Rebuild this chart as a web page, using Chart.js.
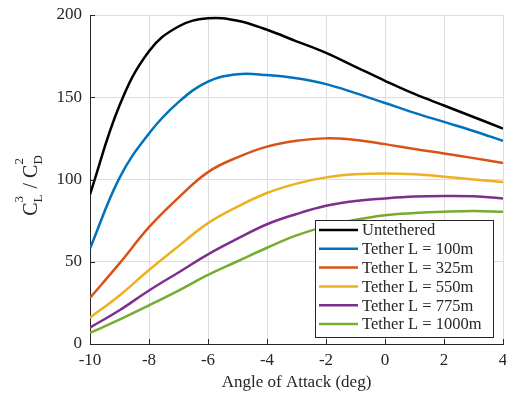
<!DOCTYPE html>
<html>
<head>
<meta charset="utf-8">
<script src="https://cdn.jsdelivr.net/npm/chart.js@4/dist/chart.umd.min.js"></script>
<style>
  html, body { margin: 0; padding: 0; background: #fff; }
  #wrap { width: 506px; height: 396px; }
</style>
</head>
<body>
<div id="wrap"><canvas id="chart" width="506" height="396"></canvas></div>
<script>
// angle of attack (deg) and C_L^3/C_D^2
const angles = [-10, -9, -8, -7, -6, -5, -4, -3, -2, -1, 0, 1, 2, 3, 4];
const untethered = [91, 145, 178, 193, 198, 196.5, 191, 184, 177, 168.5, 160, 152, 145, 138, 131];
const tether100  = [58, 101, 128, 147, 159.5, 164, 163.5, 161.5, 158, 152.5, 146.5, 140.5, 135, 129.5, 123.5];
const tether325  = [28, 49, 71, 89, 104.5, 113.5, 120, 123.5, 125, 124, 121.5, 118.5, 115.8, 113, 110];
const tether550  = [16, 29.5, 45, 59.5, 73.5, 83.5, 91.8, 97.5, 101.3, 103.2, 103.7, 103.2, 101.7, 100, 98.5];
const tether775  = [10, 20.5, 32.5, 43.5, 54.5, 64, 72.8, 79, 84, 87, 88.5, 89.6, 90, 89.8, 88.5];
const tether1000 = [6.8, 14.8, 23.5, 32.5, 42, 50.3, 58.5, 66, 71.5, 75.5, 78.3, 79.6, 80.4, 80.8, 80.4];

const seriesLabels = ['Untethered', 'Tether L = 100m', 'Tether L = 325m', 'Tether L = 550m', 'Tether L = 775m', 'Tether L = 1000m'];
const seriesValues = [untethered, tether100, tether325, tether550, tether775, tether1000];
const seriesColors = ['#000000', '#0072BD', '#D95319', '#EDB120', '#7E2F8E', '#77AC30'];

const xTicks = [-10, -8, -6, -4, -2, 0, 2, 4];
const yTicks = [0, 50, 100, 150, 200];

const FONT = "'Liberation Serif', 'DejaVu Serif', serif";
const AXIS = '#262626';

// ticks pointing into the plot, like matlab
const innerTicks = {
  id: 'innerTicks',
  afterDraw(chart) {
    const { ctx, chartArea: a, scales } = chart;
    ctx.save();
    ctx.strokeStyle = AXIS;
    ctx.lineWidth = 1;
    ctx.beginPath();
    xTicks.forEach(v => {
      const px = Math.round(scales.x.getPixelForValue(v)) + 0.5;
      ctx.moveTo(px, a.bottom);
      ctx.lineTo(px, a.bottom - 5);
    });
    yTicks.forEach(v => {
      const py = Math.round(scales.y.getPixelForValue(v)) + 0.5;
      ctx.moveTo(a.left, py);
      ctx.lineTo(a.left + 5, py);
    });
    ctx.stroke();
    ctx.restore();
  }
};

// y title: C_L^3 / C_D^2 with stacked scripts
const yTitle = {
  id: 'yTitle',
  afterDraw(chart) {
    const ctx = chart.ctx;
    const main = '20px ' + FONT, small = '13px ' + FONT;
    const parts = [['C', '3', 'L'], [' / '], ['C', '2', 'D']];
    ctx.save();
    ctx.fillStyle = AXIS;
    ctx.textBaseline = 'alphabetic';
    let total = 0;
    const widths = parts.map(p => {
      ctx.font = main;
      let w = ctx.measureText(p[0]).width;
      if (p.length > 1) {
        ctx.font = small;
        w += Math.max(ctx.measureText(p[1]).width, ctx.measureText(p[2]).width) + 1;
      }
      total += w;
      return w;
    });
    ctx.translate(37, 185);
    ctx.rotate(-Math.PI / 2);
    let x = -total / 2;
    parts.forEach((p, i) => {
      ctx.font = main;
      ctx.fillText(p[0], x, 0);
      if (p.length > 1) {
        const cw = ctx.measureText(p[0]).width;
        ctx.font = small;
        ctx.fillText(p[1], x + cw, -14);
        ctx.fillText(p[2], x + cw, 5);
      }
      x += widths[i];
    });
    ctx.restore();
  }
};

// boxed legend inside the plot, bottom right
const boxLegend = {
  id: 'boxLegend',
  afterDatasetsDraw(chart) {
    const ctx = chart.ctx;
    const bx = 315.5, by = 220.5, bw = 178, bh = 117, row = 18.8;
    ctx.save();
    ctx.fillStyle = '#fff';
    ctx.fillRect(bx, by, bw, bh);
    ctx.strokeStyle = AXIS;
    ctx.lineWidth = 1;
    ctx.strokeRect(bx, by, bw, bh);
    ctx.font = '16.5px ' + FONT;
    ctx.textBaseline = 'middle';
    chart.data.datasets.forEach((ds, i) => {
      const cy = 230 + i * row;
      ctx.strokeStyle = ds.borderColor;
      ctx.lineWidth = 2.5;
      ctx.beginPath();
      ctx.moveTo(319, cy);
      ctx.lineTo(358, cy);
      ctx.stroke();
      ctx.fillStyle = AXIS;
      ctx.fillText(ds.label, 362, cy + 1);
    });
    ctx.restore();
  }
};

new Chart(document.getElementById('chart'), {
  type: 'line',
  data: {
    datasets: seriesLabels.map((label, i) => ({
      label,
      data: angles.map((a, j) => ({ x: a, y: seriesValues[i][j] })),
      borderColor: seriesColors[i],
      borderWidth: 2.5,
      pointRadius: 0,
      fill: false,
      tension: 0.4
    }))
  },
  options: {
    responsive: false,
    animation: false,
    layout: { padding: { top: 15, right: 3, left: 0, bottom: 0 } },
    plugins: {
      legend: { display: false },
      tooltip: { enabled: false }
    },
    scales: {
      x: {
        type: 'linear',
        min: -10,
        max: 4,
        afterBuildTicks: s => { s.ticks = xTicks.map(v => ({ value: v })); },
        afterFit: s => { s.height = 52; s.paddingLeft = 0; s.paddingRight = 0; },
        grid: { color: '#dedede', drawTicks: false },
        border: { display: true, color: AXIS },
        ticks: { color: AXIS, font: { family: FONT, size: 17 }, padding: 6, maxRotation: 0 },
        title: {
          display: true,
          text: 'Angle of Attack (deg)',
          color: AXIS,
          font: { family: FONT, size: 17 },
          padding: { top: 0, bottom: 3 }
        }
      },
      y: {
        min: 0,
        max: 200,
        afterBuildTicks: s => { s.ticks = yTicks.map(v => ({ value: v })); },
        afterFit: s => { s.width = 90; s.paddingTop = 0; s.paddingBottom = 0; },
        grid: { color: '#dedede', drawTicks: false },
        border: { display: true, color: AXIS },
        ticks: { color: AXIS, font: { family: FONT, size: 17 }, padding: 8 }
      }
    }
  },
  plugins: [innerTicks, yTitle, boxLegend]
});
</script>
</body>
</html>
